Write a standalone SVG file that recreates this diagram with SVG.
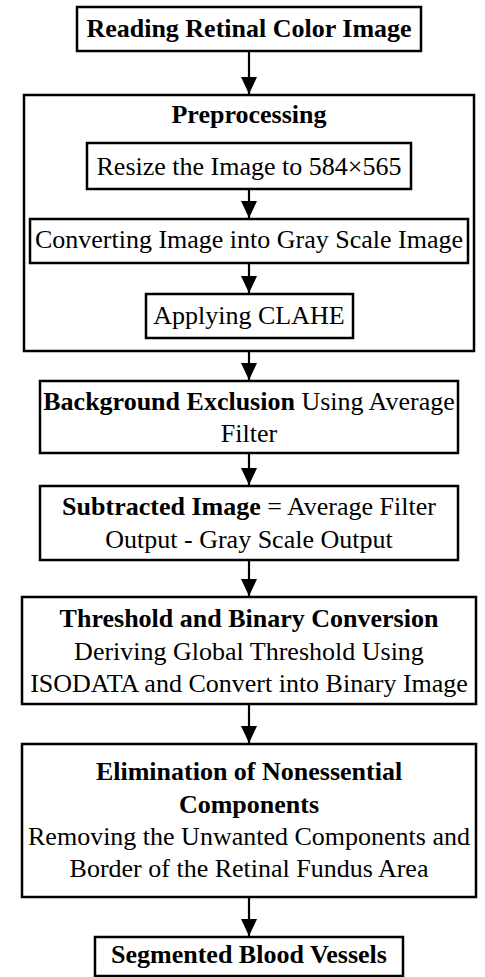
<svg xmlns="http://www.w3.org/2000/svg" width="485" height="977" viewBox="0 0 485 977">
<defs>
<style>
.box{fill:#fff;stroke:#000;stroke-width:2.5}
.t{font-family:"Liberation Serif","Times New Roman",serif;font-size:26px;fill:#000;text-anchor:middle}
.b{font-weight:bold}
.c{stroke:#000;stroke-width:2.2;fill:none}
</style>
<marker id="ah" markerUnits="userSpaceOnUse" markerWidth="18" markerHeight="16" refX="17" refY="8" orient="auto">
<polygon points="0,0 17,8 0,16" fill="#000"/>
</marker>
</defs>
<rect width="485" height="977" fill="#fff"/>
<g id="n1"><rect class="box" x="77" y="7" width="344" height="44"/><text class="t b" x="249" y="37">Reading Retinal Color Image</text></g>
<g id="n2"><rect class="box" x="24" y="95" width="450" height="256"/><text class="t b" x="249" y="123">Preprocessing</text></g>
<g id="n3"><rect class="box" x="87" y="143" width="324" height="46"/><text class="t" x="249" y="175">Resize the Image to 584×565</text></g>
<g id="n4"><rect class="box" x="30" y="219" width="438" height="44"/><text class="t" x="249" y="248">Converting Image into Gray Scale Image</text></g>
<g id="n5"><rect class="box" x="146" y="294" width="207" height="44"/><text class="t" x="249" y="324">Applying CLAHE</text></g>
<g id="n6"><rect class="box" x="40" y="381" width="418" height="72"/><text class="t" x="249" y="410"><tspan class="b">Background Exclusion</tspan> Using Average</text><text class="t" x="249" y="442">Filter</text></g>
<g id="n7"><rect class="box" x="40" y="486" width="418" height="74"/><text class="t" x="249" y="515"><tspan class="b">Subtracted Image</tspan> = Average Filter</text><text class="t" x="249" y="548">Output - Gray Scale Output</text></g>
<g id="n8"><rect class="box" x="22" y="597" width="454" height="107"/><text class="t b" x="249" y="627">Threshold and Binary Conversion</text><text class="t" x="249" y="660">Deriving Global Threshold Using</text><text class="t" x="249" y="692">ISODATA and Convert into Binary Image</text></g>
<g id="n9"><rect class="box" x="22" y="744" width="454" height="153"/><text class="t b" x="249" y="780">Elimination of Nonessential</text><text class="t b" x="249" y="813">Components</text><text class="t" x="249" y="845">Removing the Unwanted Components and</text><text class="t" x="249" y="877">Border of the Retinal Fundus Area</text></g>
<g id="n10"><rect class="box" x="95" y="937" width="308" height="39"/><text class="t b" x="249" y="963">Segmented Blood Vessels</text></g>
<g id="connectors">
<line class="c" x1="249" y1="52" x2="249" y2="94" marker-end="url(#ah)"/>
<line class="c" x1="249" y1="190" x2="249" y2="218" marker-end="url(#ah)"/>
<line class="c" x1="249" y1="264" x2="249" y2="293" marker-end="url(#ah)"/>
<line class="c" x1="249" y1="352" x2="249" y2="380" marker-end="url(#ah)"/>
<line class="c" x1="249" y1="454" x2="249" y2="485" marker-end="url(#ah)"/>
<line class="c" x1="249" y1="561" x2="249" y2="596" marker-end="url(#ah)"/>
<line class="c" x1="249" y1="705" x2="249" y2="743" marker-end="url(#ah)"/>
<line class="c" x1="249" y1="898" x2="249" y2="936" marker-end="url(#ah)"/>
</g>
</svg>
